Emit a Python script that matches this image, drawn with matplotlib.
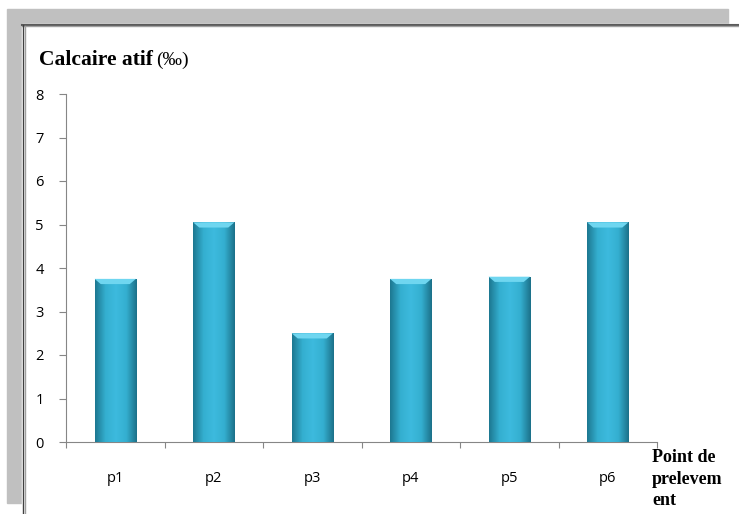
import numpy as np
import matplotlib.pyplot as plt
from matplotlib.patches import Rectangle
from matplotlib.colors import LinearSegmentedColormap

# data
points = ['p1', 'p2', 'p3', 'p4', 'p5', 'p6']
calcaire = [3.75, 5.05, 2.5, 3.75, 3.8, 5.05]
yticks = [0, 1, 2, 3, 4, 5, 6, 7, 8]

W, H = 739, 514
fig = plt.figure(figsize=(W / 100, H / 100), dpi=100)

# grey frame like the spreadsheet window
fig.patches.append(Rectangle((7 / W, 1 - 503 / H), 721 / W, 494 / H,
                             transform=fig.transFigure, color='#c0c0c0', zorder=-3))
fig.patches.append(Rectangle((22 / W, 0), 717 / W, 1 - 24 / H,
                             transform=fig.transFigure, color='white', zorder=-2))
fig.add_artist(plt.Line2D([22 / W, 1], [1 - 24.5 / H] * 2, transform=fig.transFigure,
                          color='#5a5a5a', lw=1.5))
fig.add_artist(plt.Line2D([22 / W, 1], [1 - 26 / H] * 2, transform=fig.transFigure,
                          color='#a0a0a0', lw=1))
fig.add_artist(plt.Line2D([22.5 / W] * 2, [0, 1 - 24.5 / H], transform=fig.transFigure,
                          color='#404040', lw=1))
fig.add_artist(plt.Line2D([24.5 / W] * 2, [0, 1 - 26 / H], transform=fig.transFigure,
                          color='#a0a0a0', lw=1))

ax = fig.add_axes([66 / W, 1 - 442 / H, 591 / W, 348 / H])
ax.set_facecolor('none')
x = np.arange(len(points))
bars = ax.bar(x, calcaire, width=0.42, color='#34aed0', zorder=2)

# horizontal shading inside each bar
cmap = LinearSegmentedColormap.from_list('bar', ['#1d7891', '#34afd0', '#3dbade', '#34afd0', '#1c718a'])
grad = np.linspace(0, 1, 100).reshape(1, -1)
for b in bars:
    x0, w, h = b.get_x(), b.get_width(), b.get_height()
    im = ax.imshow(grad, cmap=cmap, aspect='auto', extent=(x0, x0 + w, 0, h), zorder=3)
    im.set_clip_path(b)
    # light bevel at the top
    ax.fill([x0, x0 + w, x0 + w * 0.85, x0 + w * 0.15], [h, h, h - 0.12, h - 0.12],
            color='#6fd6f0', zorder=4, lw=0)

ax.set_xlim(-0.5, len(points) - 0.5)
ax.set_ylim(0, 8)
ax.set_yticks(yticks)
ax.set_xticks(np.arange(len(points) + 1) - 0.5)
ax.set_xticklabels([])
ax.set_xticks(x, minor=True)
ax.set_xticklabels(points, minor=True, fontsize=10.5, family='Open Sans')
ax.tick_params(axis='x', which='minor', length=0, pad=21)
ax.tick_params(axis='x', which='major', length=4.5, color='#868686', direction='out')
ax.tick_params(axis='y', length=5, color='#868686', labelsize=10.5, pad=11)
for lab in ax.get_yticklabels():
    lab.set_family('Open Sans')
for s in ['top', 'right']:
    ax.spines[s].set_visible(False)
for s in ['left', 'bottom']:
    ax.spines[s].set_color('#868686')

fig.text(39 / W, 1 - 60 / H, 'Calcaire atif', fontsize=15.5, fontweight='bold',
         family='Liberation Serif', va='center')
fig.text(156 / W, 1 - 60 / H, '(‰)', fontsize=14, family='Liberation Serif', va='center')
fig.text(652 / W, 1 - 479 / H, 'Point de\nprelevem\nent', fontsize=13, fontweight='bold',
         family='Liberation Serif', va='center', linespacing=1.35)

fig.savefig('out.png', dpi=100)
